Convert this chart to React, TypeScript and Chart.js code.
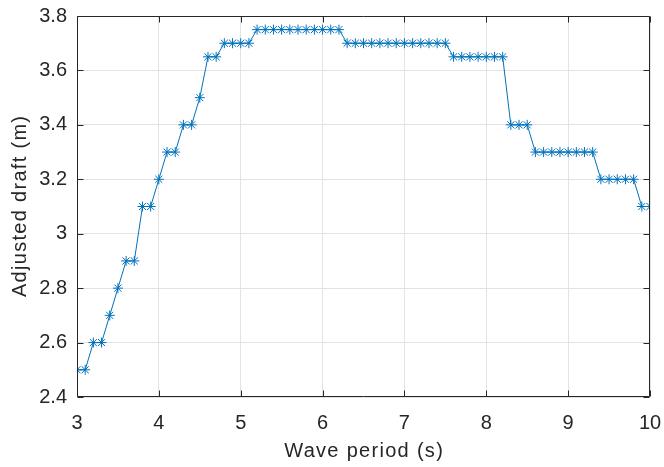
import React, { useEffect, useRef } from "react";
import { Chart, registerables } from "chart.js";

Chart.register(...registerables);

const periods = [
  3.0, 3.1, 3.2, 3.3, 3.4, 3.5, 3.6, 3.7, 3.8, 3.9,
  4.0, 4.1, 4.2, 4.3, 4.4, 4.5, 4.6, 4.7, 4.8, 4.9,
  5.0, 5.1, 5.2, 5.3, 5.4, 5.5, 5.6, 5.7, 5.8, 5.9,
  6.0, 6.1, 6.2, 6.3, 6.4, 6.5, 6.6, 6.7, 6.8, 6.9,
  7.0, 7.1, 7.2, 7.3, 7.4, 7.5, 7.6, 7.7, 7.8, 7.9,
  8.0, 8.1, 8.2, 8.3, 8.4, 8.5, 8.6, 8.7, 8.8, 8.9,
  9.0, 9.1, 9.2, 9.3, 9.4, 9.5, 9.6, 9.7, 9.8, 9.9,
  10.0,
];

const drafts = [
  2.5, 2.5, 2.6, 2.6, 2.7, 2.8, 2.9, 2.9, 3.1, 3.1,
  3.2, 3.3, 3.3, 3.4, 3.4, 3.5, 3.65, 3.65, 3.7, 3.7,
  3.7, 3.7, 3.75, 3.75, 3.75, 3.75, 3.75, 3.75, 3.75, 3.75,
  3.75, 3.75, 3.75, 3.7, 3.7, 3.7, 3.7, 3.7, 3.7, 3.7,
  3.7, 3.7, 3.7, 3.7, 3.7, 3.7, 3.65, 3.65, 3.65, 3.65,
  3.65, 3.65, 3.65, 3.4, 3.4, 3.4, 3.3, 3.3, 3.3, 3.3,
  3.3, 3.3, 3.3, 3.3, 3.2, 3.2, 3.2, 3.2, 3.2, 3.1,
  3.1,
];

const xTicks = [3, 4, 5, 6, 7, 8, 9, 10];
const yTicks = [2.4, 2.6, 2.8, 3.0, 3.2, 3.4, 3.6, 3.8];

const xLabel = "Wave period (s)";
const yLabel = "Adjusted draft (m)";

const AXIS_COLOR = "#262626";
const LINE_COLOR = "#0072BD";
const FONT = "'Liberation Sans', Arial, Helvetica, sans-serif";

const boxPlugin = {
  id: "matlabBox",
  afterDatasetsDraw(chart: any) {
    const { ctx, chartArea } = chart;
    const { left, right, top, bottom } = chartArea;
    const xs = chart.scales.x;
    const ys = chart.scales.y;
    const tl = 6;
    ctx.save();
    ctx.strokeStyle = AXIS_COLOR;
    ctx.lineWidth = 1;
    ctx.beginPath();
    const L = Math.round(left) + 0.5;
    const R = Math.round(right) - 0.5;
    const T = Math.round(top) + 0.5;
    const B = Math.round(bottom) - 0.5;
    ctx.rect(L, T, R - L, B - T);
    xTicks.forEach((v) => {
      const px = Math.round(xs.getPixelForValue(v)) + 0.5;
      ctx.moveTo(px, B);
      ctx.lineTo(px, B - tl);
      ctx.moveTo(px, T);
      ctx.lineTo(px, T + tl);
    });
    yTicks.forEach((v) => {
      const py = Math.round(ys.getPixelForValue(v)) + 0.5;
      ctx.moveTo(L, py);
      ctx.lineTo(L + tl, py);
      ctx.moveTo(R, py);
      ctx.lineTo(R - tl, py);
    });
    ctx.stroke();

    // axis titles (drawn with letter spacing like the reference)
    ctx.fillStyle = AXIS_COLOR;
    ctx.font = `20px ${FONT}`;
    (ctx as any).letterSpacing = "1.3px";
    ctx.textAlign = "center";
    ctx.textBaseline = "middle";
    ctx.fillText(xLabel, (left + right) / 2 + 0.65, 451);
    ctx.translate(20, (top + bottom) / 2);
    ctx.rotate(-Math.PI / 2);
    ctx.fillText(yLabel, 0.65, 0);
    ctx.restore();
  },
};

export default function App() {
  const canvasRef = useRef<HTMLCanvasElement | null>(null);

  useEffect(() => {
    if (!canvasRef.current) return;
    const data = periods.map((p, i) => ({ x: p, y: drafts[i] }));
    const chart = new Chart(canvasRef.current, {
      type: "line",
      data: {
        datasets: [
          {
            data,
            borderColor: LINE_COLOR,
            backgroundColor: LINE_COLOR,
            borderWidth: 1,
            pointStyle: "star",
            pointRadius: 5,
            pointBorderWidth: 1,
            pointBorderColor: LINE_COLOR,
            pointBackgroundColor: LINE_COLOR,
            tension: 0,
            fill: false,
          },
        ],
      },
      plugins: [boxPlugin],
      options: {
        animation: false,
        responsive: false,
        maintainAspectRatio: false,
        layout: { padding: 0 },
        plugins: {
          legend: { display: false },
          tooltip: { enabled: false },
        },
        scales: {
          x: {
            type: "linear",
            min: 3,
            max: 10,
            afterBuildTicks: (scale: any) => {
              scale.ticks = xTicks.map((v) => ({ value: v }));
            },
            afterFit: (scale: any) => {
              scale.height = 70;
              scale.paddingLeft = 0;
              scale.paddingRight = 14;
            },
            ticks: {
              font: { family: FONT, size: 20 },
              color: AXIS_COLOR,
              padding: 14,
              maxRotation: 0,
              callback: (v: any) => String(Math.round(Number(v) * 10) / 10),
            },
            grid: { color: "#e3e3e3", drawTicks: false, tickLength: 0 },
            border: { display: false },
          },
          y: {
            type: "linear",
            min: 2.4,
            max: 3.8,
            afterBuildTicks: (scale: any) => {
              scale.ticks = yTicks.map((v) => ({ value: v }));
            },
            afterFit: (scale: any) => {
              scale.width = 77;
              scale.paddingTop = 16;
              scale.paddingBottom = 0;
            },
            ticks: {
              font: { family: FONT, size: 20 },
              color: AXIS_COLOR,
              padding: 10,
              callback: (v: any) => String(Math.round(Number(v) * 10) / 10),
            },
            grid: { color: "#e3e3e3", drawTicks: false, tickLength: 0 },
            border: { display: false },
          },
        },
      },
    } as any);
    return () => chart.destroy();
  }, []);

  return (
    <div style={{ position: "absolute", left: 0, top: 0, width: 664, height: 467, background: "#fff" }}>
      <canvas ref={canvasRef} width={664} height={467} style={{ width: 664, height: 467, display: "block" }} />
    </div>
  );
}
